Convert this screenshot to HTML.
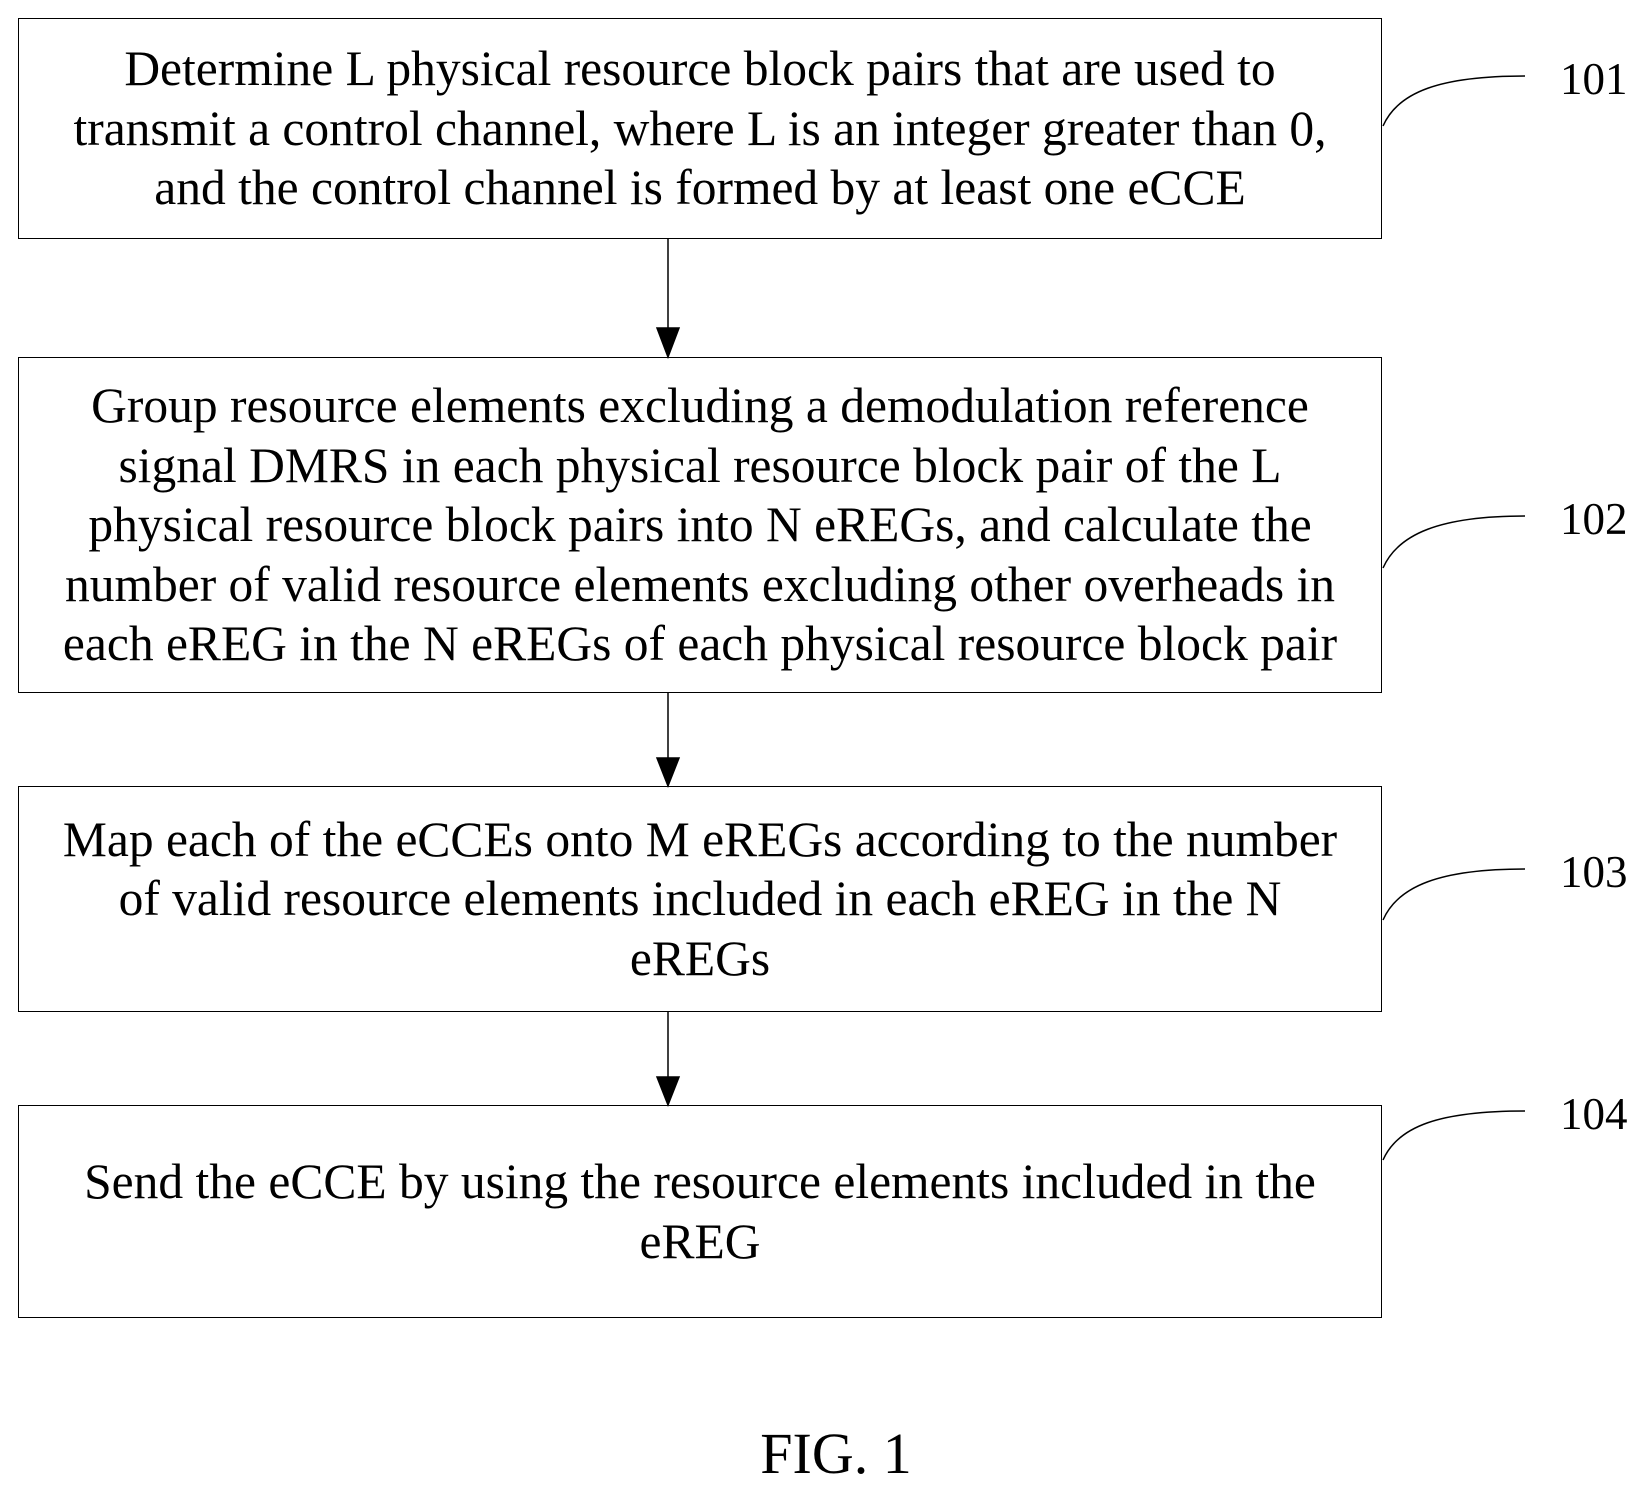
<!DOCTYPE html>
<html><head><meta charset="utf-8"><style>
body{margin:0;background:#fff;width:1642px;height:1488px;position:relative;overflow:hidden;font-family:"Liberation Serif",serif;color:#000}
.b{position:absolute;left:18px;width:1364px;border:1.5px solid #000;box-sizing:border-box;display:flex;align-items:center;justify-content:center;text-align:center;font-size:49.5px;line-height:59.5px;white-space:nowrap}
.l{position:absolute;left:1560px;font-size:45px;line-height:45px}
</style></head><body>
<div class="b" style="top:18px;height:221px">Determine L physical resource block pairs that are used to<br>transmit a control channel, where L is an integer greater than 0,<br>and the control channel is formed by at least one eCCE</div>
<div class="b" style="top:357px;height:336px">Group resource elements excluding a demodulation reference<br>signal DMRS in each physical resource block pair of the L<br>physical resource block pairs into N eREGs, and calculate the<br>number of valid resource elements excluding other overheads in<br>each eREG in the N eREGs of each physical resource block pair</div>
<div class="b" style="top:786px;height:226px">Map each of the eCCEs onto M eREGs according to the number<br>of valid resource elements included in each eREG in the N<br>eREGs</div>
<div class="b" style="top:1105px;height:213px">Send the eCCE by using the resource elements included in the<br>eREG</div>
<div class="l" style="top:57px">101</div>
<div class="l" style="top:497px">102</div>
<div class="l" style="top:850px">103</div>
<div class="l" style="top:1092px">104</div>
<div style="position:absolute;left:0;width:1672px;top:1423px;text-align:center;font-size:58px;line-height:62px">FIG. 1</div>
<svg width="1642" height="1488" style="position:absolute;left:0;top:0" fill="none" stroke="#000" stroke-width="1.5">
<path d="M668 239V330M668 693V760M668 1012V1079"/>
<path d="M657 328L679 328L668 357Z M657 758L679 758L668 786Z M657 1077L679 1077L668 1105Z" fill="#000"/>
<path d="M1383 126C1398 92 1440 76 1525 76"/>
<path d="M1383 568C1398 534 1440 516 1525 516"/>
<path d="M1383 920C1398 886 1440 869 1525 869"/>
<path d="M1383 1160C1398 1126 1440 1111 1525 1111"/>
</svg>
</body></html>
